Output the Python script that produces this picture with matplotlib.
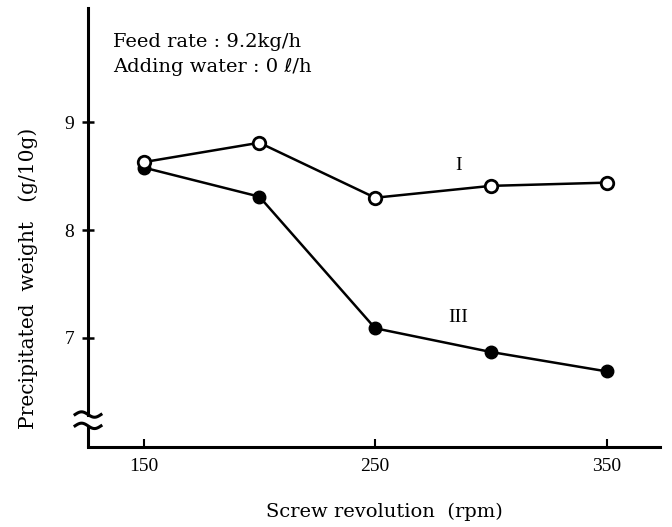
import numpy as np
import matplotlib.pyplot as plt

# Data
rpm = [150, 200, 250, 300, 350]
weight_I = [8.63, 8.81, 8.30, 8.41, 8.44]
weight_III = [8.58, 8.31, 7.09, 6.87, 6.69]

x_ticks = [150, 250, 350]
y_ticks = [7, 8, 9]

plt.rcParams['font.family'] = ['Liberation Serif', 'DejaVu Serif']
serif_wide = ['DejaVu Serif', 'DejaVu Sans']

fig = plt.figure(figsize=(6.72, 5.27), dpi=100)
ax = fig.add_axes([0.131, 0.152, 0.851, 0.833])

ax.plot(rpm, weight_III, '-o', color='black', lw=1.8, ms=9,
        mfc='black', mec='black', zorder=3)
ax.plot(rpm, weight_I, '-o', color='black', lw=1.8, ms=9,
        mfc='white', mec='black', mew=2, zorder=4)

x0, x1 = 126, 373
y0, y1 = 5.99, 10.06
ax.set_xlim(x0, x1)
ax.set_ylim(y0, y1)

for s in ['top', 'right']:
    ax.spines[s].set_visible(False)
ax.spines['bottom'].set_linewidth(2.2)
ax.spines['left'].set_linewidth(2.2)

# broken y axis: upper piece ends at upper wave, lower piece starts at lower wave
brk_hi, brk_lo = 6.29, 6.185
ax.spines['left'].set_bounds(brk_hi, y1)
ax.plot([x0, x0], [y0, brk_lo], color='black', lw=2.2, clip_on=False,
        solid_capstyle='butt')
t = np.linspace(-1, 1, 40)
for yb in [brk_hi, brk_lo]:
    ax.plot(x0 + 5.6 * t, yb - 0.025 * np.sin(np.pi * t), color='black',
            lw=2.2, clip_on=False)

ax.set_xticks(x_ticks)
ax.set_yticks(y_ticks)
ax.tick_params(axis='x', direction='in', length=6, width=1.5,
               labelsize=14, pad=8)
ax.tick_params(axis='y', direction='inout', length=8, width=1.8,
               labelsize=14, pad=6)

ax.set_xlabel('Screw revolution  (rpm)', fontsize=14, family=serif_wide)
ax.xaxis.set_label_coords(0.519, -0.128)
ax.set_ylabel('Precipitated  weight   (g/10g)', fontsize=14.5,
              family=serif_wide)
ax.yaxis.set_label_coords(-0.087, 0.385)

ax.text(137, 9.74, 'Feed rate : 9.2kg/h', fontsize=14, va='center',
        family=serif_wide)
ax.text(137, 9.51, 'Adding water : 0 \u2113/h', fontsize=14, va='center',
        family=serif_wide)

ax.text(286, 8.60, 'I', fontsize=14, ha='center', va='center')
ax.text(286, 7.19, 'III', fontsize=14, ha='center', va='center')

fig.savefig('out.png', dpi=100)
